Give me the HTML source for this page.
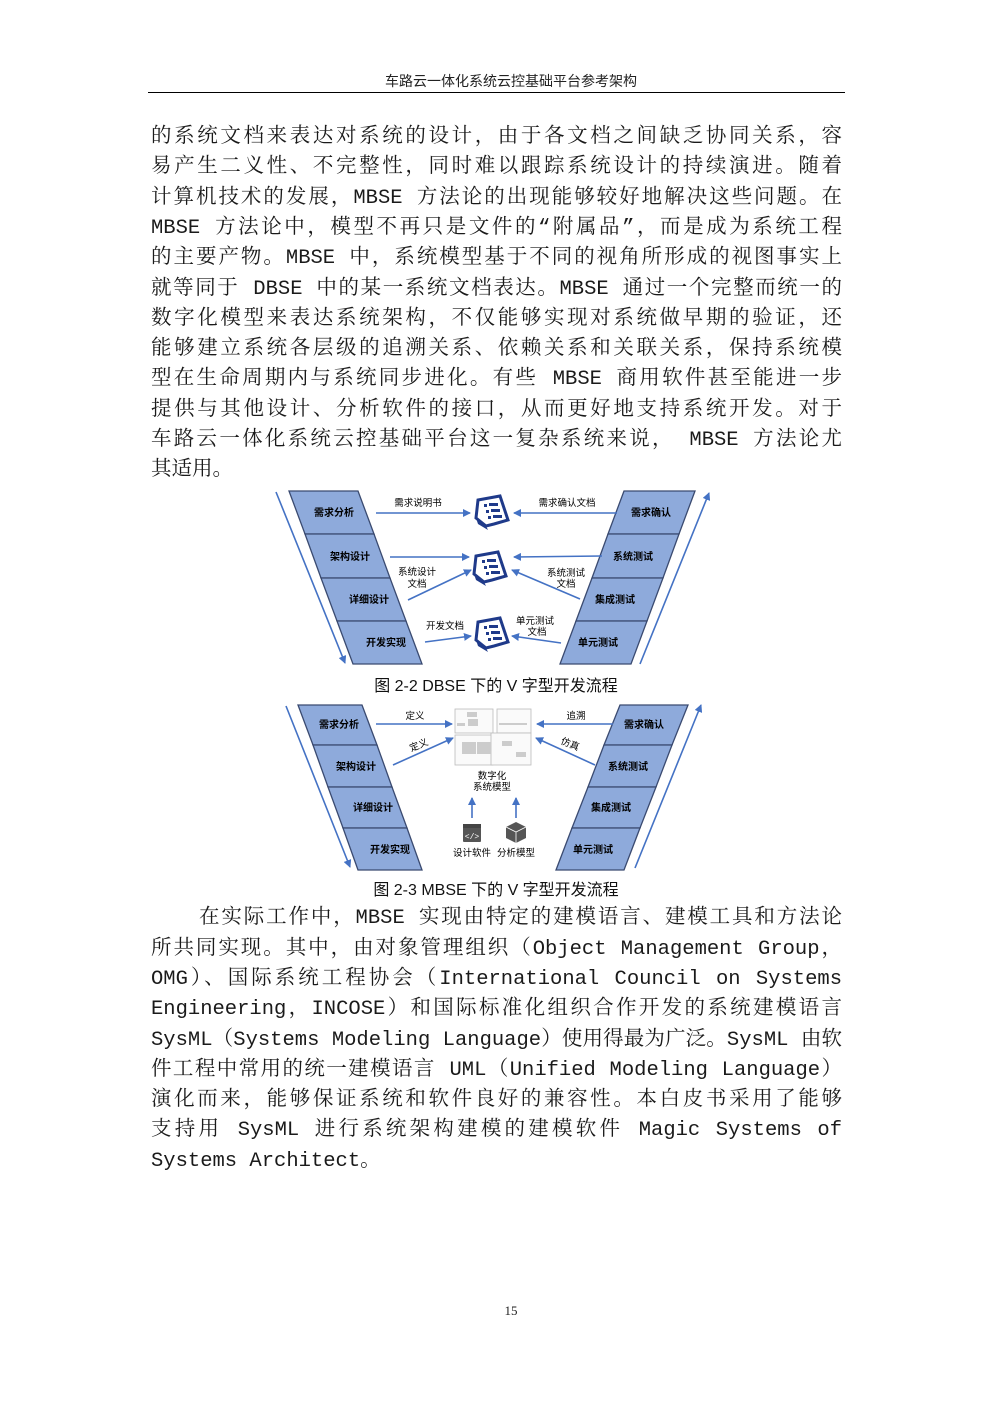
<!DOCTYPE html>
<html><head><meta charset="utf-8">
<style>
html,body{margin:0;padding:0;background:#fff;}
body{width:992px;height:1403px;position:relative;overflow:hidden;}
.t{position:absolute;left:151px;width:691px;font-family:"Liberation Mono","Noto Serif CJK SC",serif;font-size:20.5px;line-height:26px;color:#1a1a1a;text-align:justify;text-align-last:justify;white-space:nowrap;}
.hd{position:absolute;top:71px;left:0;width:1022px;text-align:center;font-family:"Liberation Sans","Noto Sans CJK SC",sans-serif;font-size:14px;color:#222;}
.cap{position:absolute;left:0;width:992px;text-align:center;font-family:"Liberation Sans","Noto Sans CJK SC",sans-serif;font-size:16px;color:#111;}
</style></head><body>
<div class="hd">车路云一体化系统云控基础平台参考架构</div>
<div style="position:absolute;left:148px;top:92px;width:697px;height:1px;background:#000"></div>

<div class="t" style="top:125px">的系统文档来表达对系统的设计，由于各文档之间缺乏协同关系，容</div>
<div class="t" style="top:155px">易产生二义性、不完整性，同时难以跟踪系统设计的持续演进。随着</div>
<div class="t" style="top:186px">计算机技术的发展，MBSE 方法论的出现能够较好地解决这些问题。在</div>
<div class="t" style="top:216px">MBSE 方法论中，模型不再只是文件的“附属品”，而是成为系统工程</div>
<div class="t" style="top:246px">的主要产物。MBSE 中，系统模型基于不同的视角所形成的视图事实上</div>
<div class="t" style="top:277px">就等同于 DBSE 中的某一系统文档表达。MBSE 通过一个完整而统一的</div>
<div class="t" style="top:307px">数字化模型来表达系统架构，不仅能够实现对系统做早期的验证，还</div>
<div class="t" style="top:337px">能够建立系统各层级的追溯关系、依赖关系和关联关系，保持系统模</div>
<div class="t" style="top:367px">型在生命周期内与系统同步进化。有些 MBSE 商用软件甚至能进一步</div>
<div class="t" style="top:398px">提供与其他设计、分析软件的接口，从而更好地支持系统开发。对于</div>
<div class="t" style="top:428px">车路云一体化系统云控基础平台这一复杂系统来说， MBSE 方法论尤</div>
<div class="t" style="top:458px;text-align-last:left">其适用。</div>

<svg style="position:absolute;left:0;top:0" width="992" height="1403" font-family="Liberation Sans,Noto Sans CJK SC,sans-serif">
<defs>
<marker id="a" markerWidth="8" markerHeight="8" refX="7" refY="4" orient="auto" markerUnits="userSpaceOnUse"><path d="M0,0 L8,4 L0,8 z" fill="#4472c4"/></marker>
<g id="doc">
<path d="M-14,-12 L8,-16 L16,8 L2,12 L-6,14 L-16,6 z" fill="#fff" stroke="#1f3a8a" stroke-width="3"/>
<path d="M-16,6 L-6,14 L-4,18 L-14,12 z" fill="#1f3a8a"/>
<rect x="-8" y="-8" width="3" height="3" fill="#1f3a8a"/><rect x="-3" y="-9" width="9" height="3" fill="#1f3a8a"/>
<rect x="-6" y="-2" width="3" height="3" fill="#1f3a8a"/><rect x="-1" y="-3" width="9" height="3" fill="#1f3a8a"/>
<rect x="-4" y="4" width="3" height="3" fill="#1f3a8a"/><rect x="1" y="3" width="9" height="3" fill="#1f3a8a"/>
</g>
</defs>
<!-- Diagram 1 -->
<g stroke="#3a4a70" stroke-width="1.3" fill="#8eaadb">
<polygon points="289,491 358,491 374,534 305,534"/>
<polygon points="305,534 374,534 390,578 321,578"/>
<polygon points="321,578 390,578 406,621 337,621"/>
<polygon points="337,621 406,621 422,664 353,664"/>
<polygon points="624,491 695,491 679,534 608,534"/>
<polygon points="608,534 679,534 663,578 592,578"/>
<polygon points="592,578 663,578 647,621 576,621"/>
<polygon points="576,621 647,621 631,664 560,664"/>
</g>
<g stroke="#4472c4" stroke-width="1.6" fill="none" marker-end="url(#a)">
<line x1="276" y1="492" x2="345" y2="663"/>
<line x1="640" y1="664" x2="709" y2="493"/>
<line x1="376" y1="513" x2="470" y2="513"/>
<line x1="617" y1="513" x2="514" y2="513"/>
<line x1="390" y1="557" x2="469" y2="557"/>
<line x1="602" y1="556" x2="514" y2="557"/>
<line x1="408" y1="600" x2="471" y2="570"/>
<line x1="580" y1="599" x2="512" y2="570"/>
<line x1="425" y1="642" x2="471" y2="636"/>
<line x1="561" y1="643" x2="512" y2="636"/>
</g>
<use href="#doc" x="492" y="512"/>
<use href="#doc" x="490" y="568"/>
<use href="#doc" x="492" y="634"/>
<g font-size="10" font-weight="bold" fill="#000" text-anchor="middle">
<text x="334" y="516">需求分析</text>
<text x="350" y="560">架构设计</text>
<text x="369" y="603">详细设计</text>
<text x="386" y="646">开发实现</text>
<text x="651" y="516">需求确认</text>
<text x="633" y="560">系统测试</text>
<text x="615" y="603">集成测试</text>
<text x="598" y="646">单元测试</text>
</g>
<g font-size="9.5" fill="#000" text-anchor="middle">
<text x="418" y="506">需求说明书</text>
<text x="567" y="506">需求确认文档</text>
<text x="417" y="575">系统设计</text><text x="417" y="587">文档</text>
<text x="566" y="576">系统测试</text><text x="566" y="587">文档</text>
<text x="445" y="629">开发文档</text>
<text x="535" y="624">单元测试</text><text x="537" y="635">文档</text>
</g>
<!-- Diagram 2 -->
<g stroke="#3a4a70" stroke-width="1.3" fill="#8eaadb">
<polygon points="298,705 362,705 377,745 313,745"/>
<polygon points="313,745 377,745 392,787 328,787"/>
<polygon points="328,787 392,787 407,828 343,828"/>
<polygon points="343,828 407,828 422,870 358,870"/>
<polygon points="620,705 688,705 672,745 604,745"/>
<polygon points="604,745 672,745 656,787 588,787"/>
<polygon points="588,787 656,787 640,828 572,828"/>
<polygon points="572,828 640,828 624,870 556,870"/>
</g>
<g stroke="#4472c4" stroke-width="1.6" fill="none" marker-end="url(#a)">
<line x1="286" y1="706" x2="350" y2="867"/>
<line x1="635" y1="868" x2="701" y2="705"/>
<line x1="376" y1="724" x2="452" y2="724"/>
<line x1="613" y1="724" x2="537" y2="724"/>
<line x1="393" y1="765" x2="453" y2="738"/>
<line x1="595" y1="765" x2="536" y2="738"/>
<line x1="472" y1="818" x2="472" y2="798"/>
<line x1="516" y1="818" x2="516" y2="798"/>
</g>
<g stroke="#bbb" stroke-width="0.8" fill="#fafafa">
<rect x="455" y="709" width="38" height="24"/><rect x="497" y="709" width="34" height="24"/>
<rect x="455" y="735" width="38" height="30"/><rect x="491" y="733" width="40" height="32"/>
</g>
<g fill="#ccc"><rect x="467" y="712" width="10" height="5"/><rect x="468" y="719" width="10" height="7"/><rect x="457" y="723" width="8" height="3"/><rect x="462" y="742" width="14" height="12"/><rect x="477" y="742" width="14" height="12"/><rect x="499" y="723" width="28" height="2"/><rect x="502" y="741" width="10" height="5"/><rect x="516" y="752" width="10" height="5"/></g>
<g font-size="10" font-weight="bold" fill="#000" text-anchor="middle">
<text x="339" y="728">需求分析</text>
<text x="356" y="770">架构设计</text>
<text x="373" y="811">详细设计</text>
<text x="390" y="853">开发实现</text>
<text x="644" y="728">需求确认</text>
<text x="628" y="770">系统测试</text>
<text x="611" y="811">集成测试</text>
<text x="593" y="853">单元测试</text>
</g>
<g font-size="9.5" fill="#000" text-anchor="middle">
<text x="415" y="719">定义</text>
<text x="576" y="719">追溯</text>
<text x="420" y="748" transform="rotate(-22 420 748)">定义</text>
<text x="569" y="747" transform="rotate(22 569 747)">仿真</text>
<text x="492" y="779">数字化</text><text x="492" y="790">系统模型</text>
<text x="472" y="856">设计软件</text><text x="516" y="856">分析模型</text>
</g>
<rect x="463" y="824" width="18" height="18" rx="1" fill="#555"/>
<rect x="463" y="824" width="18" height="4" fill="#444"/>
<text x="472" y="839" font-size="8" fill="#fff" text-anchor="middle" font-family="Liberation Mono">&lt;/&gt;</text>
<path d="M506,827 L516,822 L526,827 L526,838 L516,843 L506,838 z" fill="#555"/>
<path d="M506,827 L516,832 L526,827 M516,832 L516,843" stroke="#fff" stroke-width="0.8" fill="none"/>
</svg>

<div class="cap" style="top:672px">图 2-2 DBSE 下的 V 字型开发流程</div>
<div class="cap" style="top:876px">图 2-3 MBSE 下的 V 字型开发流程</div>

<div class="t" style="top:906px;left:199px;width:643px">在实际工作中，MBSE 实现由特定的建模语言、建模工具和方法论</div>
<div class="t" style="top:937px">所共同实现。其中，由对象管理组织（Object Management Group，</div>
<div class="t" style="top:967px">OMG）、国际系统工程协会（International Council on Systems</div>
<div class="t" style="top:997px">Engineering，INCOSE）和国际标准化组织合作开发的系统建模语言</div>
<div class="t" style="top:1028px">SysML（Systems Modeling Language）使用得最为广泛。SysML 由软</div>
<div class="t" style="top:1058px">件工程中常用的统一建模语言 UML（Unified Modeling Language）</div>
<div class="t" style="top:1088px">演化而来，能够保证系统和软件良好的兼容性。本白皮书采用了能够</div>
<div class="t" style="top:1118px">支持用 SysML 进行系统架构建模的建模软件 Magic Systems of</div>
<div class="t" style="top:1149px;text-align-last:left">Systems Architect。</div>

<div style="position:absolute;top:1303px;left:0;width:1022px;text-align:center;font-family:'Liberation Serif',serif;font-size:13px;color:#222">15</div>
</body></html>
